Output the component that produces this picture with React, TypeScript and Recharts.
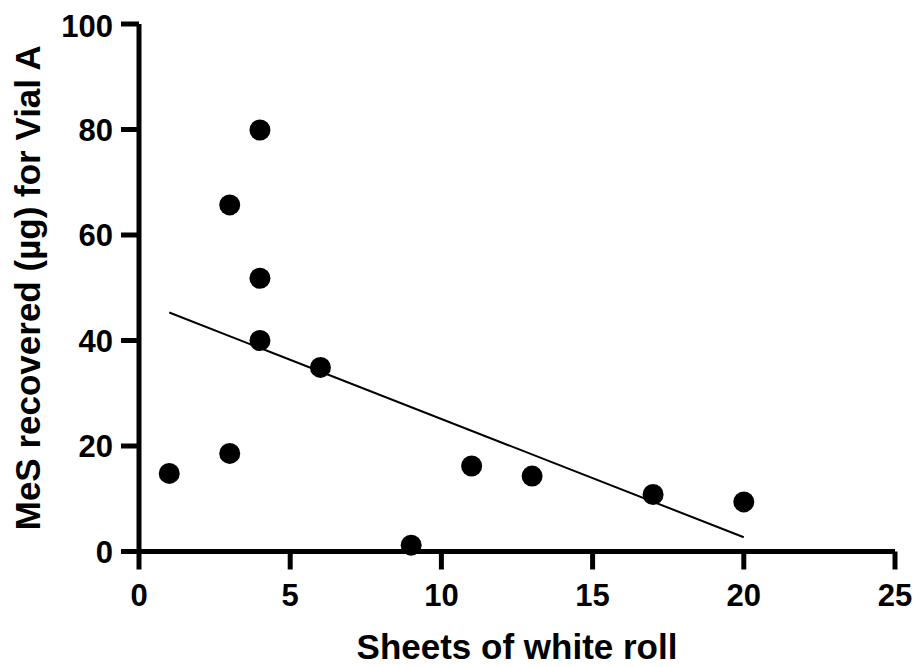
import { ScatterChart, Scatter, XAxis, YAxis, Label } from "recharts"

// sheets of white roll vs MeS recovered (µg), Vial A
const sheets = [1, 3, 3, 4, 4, 4, 6, 9, 11, 13, 17, 20]
const mesRecovered = [14.8, 18.6, 65.7, 79.9, 51.8, 40.0, 34.9, 1.2, 16.2, 14.3, 10.8, 9.4]

// fitted line, endpoints
const fitX = [1, 20]
const fitY = [45.3, 2.7]

const xTicks = [0, 5, 10, 15, 20, 25]
const yTicks = [0, 20, 40, 60, 80, 100]

const points = sheets.map((x, i) => ({ x, y: mesRecovered[i] }))
const fitLine = fitX.map((x, i) => ({ x, y: fitY[i] }))

const font = "'Liberation Sans', Arial, Helvetica, sans-serif"
const axisStyle = { stroke: "#000", strokeWidth: 5 }
const tickStyle = { fill: "#000", fontSize: 31, fontWeight: 700, fontFamily: font }
const titleStyle = { fill: "#000", fontSize: 35, fontWeight: 700, fontFamily: font }

const Dot = (props: any) => <circle cx={props.cx} cy={props.cy} r={10.5} fill="#000" />

export default function App() {
  return (
    <ScatterChart width={907} height={659} margin={{ top: 16, right: 20, bottom: 0, left: 0 }}>
      <XAxis
        type="number"
        dataKey="x"
        domain={[0, 25]}
        ticks={xTicks}
        height={115.5}
        tickSize={18}
        tickMargin={14}
        axisLine={axisStyle}
        tickLine={axisStyle}
        tick={tickStyle}
      >
        <Label value="Sheets of white roll" position="insideBottom" offset={8} style={titleStyle} />
      </XAxis>
      <YAxis
        type="number"
        dataKey="y"
        domain={[0, 100]}
        ticks={yTicks}
        width={131}
        tickSize={18}
        tickMargin={8}
        axisLine={axisStyle}
        tickLine={axisStyle}
        tick={tickStyle}
      >
        <Label
          value="MeS recovered (µg) for Vial A"
          angle={-90}
          position="insideLeft"
          offset={20}
          style={{ ...titleStyle, textAnchor: "middle" }}
        />
      </YAxis>
      <Scatter data={fitLine} line={{ stroke: "#000", strokeWidth: 2 }} shape={() => null} isAnimationActive={false} />
      <Scatter data={points} shape={Dot} isAnimationActive={false} />
    </ScatterChart>
  )
}
